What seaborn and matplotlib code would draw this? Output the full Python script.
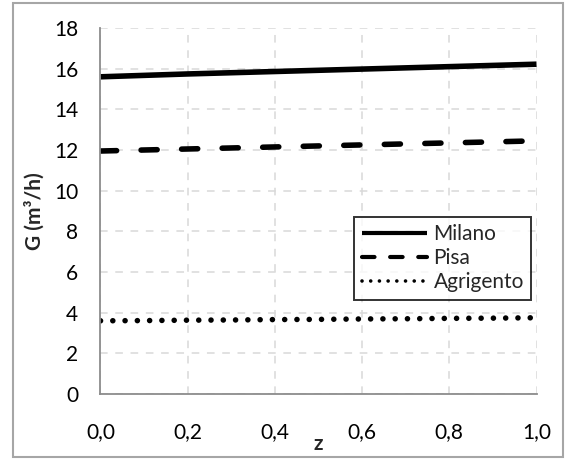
import matplotlib
matplotlib.use("Agg")
import matplotlib.pyplot as plt
from matplotlib.patches import Rectangle
import numpy as np
import pandas as pd
import seaborn as sns

# Flow rate G (m³/h) versus z for the three sites
z = [0.0, 0.1, 0.2, 0.3, 0.4, 0.5, 0.6, 0.7, 0.8, 0.9, 1.0]
milano = [15.60, 15.67, 15.74, 15.80, 15.86, 15.92, 15.98, 16.04, 16.10, 16.16, 16.22]
pisa = [11.95, 12.00, 12.05, 12.10, 12.15, 12.20, 12.25, 12.30, 12.35, 12.40, 12.45]
agrigento = [3.60, 3.61, 3.63, 3.64, 3.66, 3.67, 3.69, 3.70, 3.72, 3.73, 3.75]

series_names = ["Milano", "Pisa", "Agrigento"]
x_ticks = [0.0, 0.2, 0.4, 0.6, 0.8, 1.0]
x_ticklabels = ["0,0", "0,2", "0,4", "0,6", "0,8", "1,0"]
y_ticks = [0, 2, 4, 6, 8, 10, 12, 14, 16, 18]

sns.set_style("white")
plt.rcParams["font.family"] = ["Lato", "DejaVu Sans"]

FS = 15

fig = plt.figure(figsize=(5.68, 4.61), dpi=100)
ax = fig.add_axes([100.5 / 568, 1 - 394 / 461, 436 / 568, 366 / 461])

df = pd.DataFrame({"z": z, "Milano": milano, "Pisa": pisa, "Agrigento": agrigento})

styles = {
    "Milano": dict(linestyle="-"),
    "Pisa": dict(linestyle=(0, (2.9, 4.4))),
    "Agrigento": dict(linestyle=(0, (0.01, 2.2))),
}
widths = {"Milano": 4.0, "Pisa": 4.0, "Agrigento": 4.0}

for name in series_names:
    sns.lineplot(data=df, x="z", y=name, ax=ax, color="black",
                 linewidth=widths[name], label=name,
                 dash_capstyle="round", solid_capstyle="butt",
                 **styles[name])

ax.set_xlim(0, 1)
ax.set_ylim(0, 18)
ax.set_xticks(x_ticks)
ax.set_xticklabels(x_ticklabels)
ax.set_yticks(y_ticks)

ax.grid(True, color="#d9d9d9", linestyle=(0, (5, 5)), linewidth=1.1)
ax.set_axisbelow(True)
for side in ["top", "right"]:
    ax.spines[side].set_visible(False)
for side in ["left", "bottom"]:
    ax.spines[side].set_color("#8c8c8c")
    ax.spines[side].set_linewidth(1.3)

ax.tick_params(axis="both", length=0, labelsize=FS, colors="black")
ax.tick_params(axis="y", pad=16)
ax.tick_params(axis="x", pad=20)

ax.set_xlabel("z", fontsize=FS, fontweight="bold", va="top")
ax.xaxis.set_label_coords(0.5, -0.11)
ax.set_ylabel("G (m³/h)", fontsize=FS, fontweight="bold", va="center")
ax.yaxis.set_label_coords(-0.152, 0.5)

leg = ax.legend(loc="upper right", bbox_to_anchor=(0.988, 0.484),
                fontsize=FS, frameon=True, fancybox=False,
                handlelength=3.15, handletextpad=0.3, borderpad=0.35,
                labelspacing=0.2, borderaxespad=0)
leg.get_frame().set_edgecolor("black")
leg.get_frame().set_linewidth(1.4)
leg_lines = leg.get_lines()
leg_lines[0].set_linewidth(3.0)
leg_lines[1].set_linewidth(3.0)
leg_lines[1].set_dashes((3.0, 3.75))
leg_lines[2].set_linewidth(2.6)
leg_lines[2].set_dashes((0.01, 2.4))

fig.patches.append(Rectangle((13 / 568, 4 / 461), 550 / 568, 454 / 461,
                             transform=fig.transFigure, fill=False,
                             edgecolor="#a6a6a6", linewidth=1.5))

fig.savefig("out.png", dpi=100)
